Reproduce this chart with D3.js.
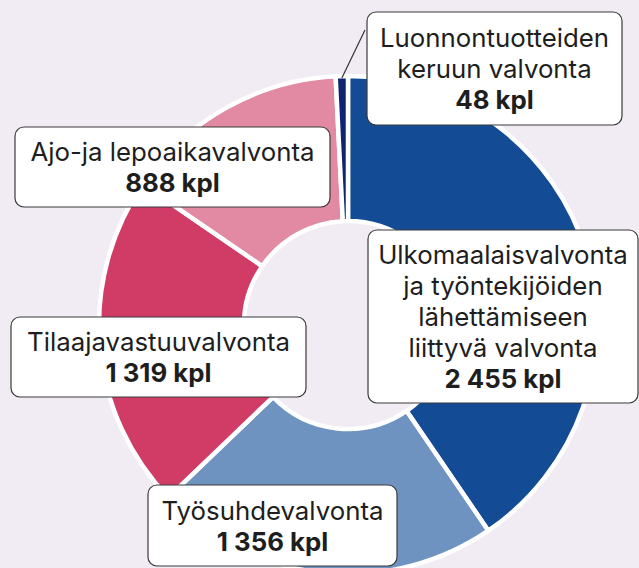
<!DOCTYPE html>
<html>
<head>
<meta charset="utf-8">
<script src="https://cdn.jsdelivr.net/npm/d3@7"></script>
<style>
  body { margin: 0; background: #f1ecf4; }
  svg { display: block; }
  .lbl { font-family: Inter, "Open Sans", sans-serif; font-size: 25.8px; fill: #1e1e1e; }
  .lbl .val { font-weight: 700; }
</style>
</head>
<body>
<svg id="chart" width="639" height="568"></svg>
<script>
// data
var categories = [
  "Ulkomaalaisvalvonta ja työntekijöiden lähettämiseen liittyvä valvonta",
  "Työsuhdevalvonta",
  "Tilaajavastuuvalvonta",
  "Ajo- ja lepoaikavalvonta",
  "Luonnontuotteiden keruun valvonta"
];
var values = [2455, 1356, 1319, 888, 48];
var labelLines = [
  ["Ulkomaalaisvalvonta", "ja työntekijöiden", "lähettämiseen", "liittyvä valvonta"],
  ["Työsuhdevalvonta"],
  ["Tilaajavastuuvalvonta"],
  ["Ajo-ja lepoaikavalvonta"],
  ["Luonnontuotteiden", "keruun valvonta"]
];
var unit = "kpl";

// styling / layout
var colors = ["#144b95", "#6f93c0", "#d03c66", "#e289a3", "#0e2670"];
var boxes = [
  {x: 368, y: 230, w: 270, h: 173},
  {x: 148, y: 485, w: 249, h: 81},
  {x: 11, y: 317, w: 295, h: 80},
  {x: 15, y: 127, w: 315, h: 80},
  {x: 367, y: 12, w: 255, h: 113}
];
var cx = 348, cy = 325, rOuter = 249, rInner = 104;
var lineH = 31, capH = 19;

var fi = d3.formatLocale({decimal: ",", thousands: "\u00a0", grouping: [3], currency: ["", " €"]});
var fmt = fi.format(",d");

var svg = d3.select("#chart");
var g = svg.append("g").attr("transform", "translate(" + cx + "," + cy + ")");

var pie = d3.pie().sort(null).value(function(d) { return d; });
var arc = d3.arc().innerRadius(rInner).outerRadius(rOuter);
var arcs = pie(values);

g.selectAll("path.slice")
  .data(arcs)
  .enter().append("path")
  .attr("class", "slice")
  .attr("d", arc)
  .attr("fill", function(d, i) { return colors[i]; })
  .attr("stroke", "#fff")
  .attr("stroke-width", 4.5)
  .attr("stroke-linejoin", "round");

// leader line for the thin slice
var last = arcs[arcs.length - 1];
var mid = (last.startAngle + last.endAngle) / 2;
var bx = boxes[4];
svg.append("line")
  .attr("x1", cx + Math.sin(mid) * (rOuter - 2))
  .attr("y1", cy - Math.cos(mid) * (rOuter - 2))
  .attr("x2", bx.x - 2)
  .attr("y2", bx.y + 18)
  .attr("stroke", "#333")
  .attr("stroke-width", 1.2);

// label boxes
var lab = svg.selectAll("g.lab")
  .data(arcs)
  .enter().append("g")
  .attr("class", "lab");

lab.append("rect")
  .attr("x", function(d, i) { return boxes[i].x; })
  .attr("y", function(d, i) { return boxes[i].y; })
  .attr("width", function(d, i) { return boxes[i].w; })
  .attr("height", function(d, i) { return boxes[i].h; })
  .attr("rx", 9)
  .attr("fill", "#fff")
  .attr("stroke", "#3a3a3a")
  .attr("stroke-width", 1.2);

lab.each(function(d, i) {
  var b = boxes[i];
  var lines = labelLines[i].concat([fmt(values[i]) + " " + unit]);
  var n = lines.length;
  var first = b.y + b.h / 2 - ((n - 1) * lineH) / 2 + capH / 2;
  var t = d3.select(this).append("text")
    .attr("class", "lbl")
    .attr("text-anchor", "middle");
  lines.forEach(function(s, k) {
    t.append("tspan")
      .attr("class", k == n - 1 ? "val" : null)
      .attr("x", b.x + b.w / 2)
      .attr("y", first + k * lineH)
      .text(s);
  });
});
</script>
</body>
</html>
